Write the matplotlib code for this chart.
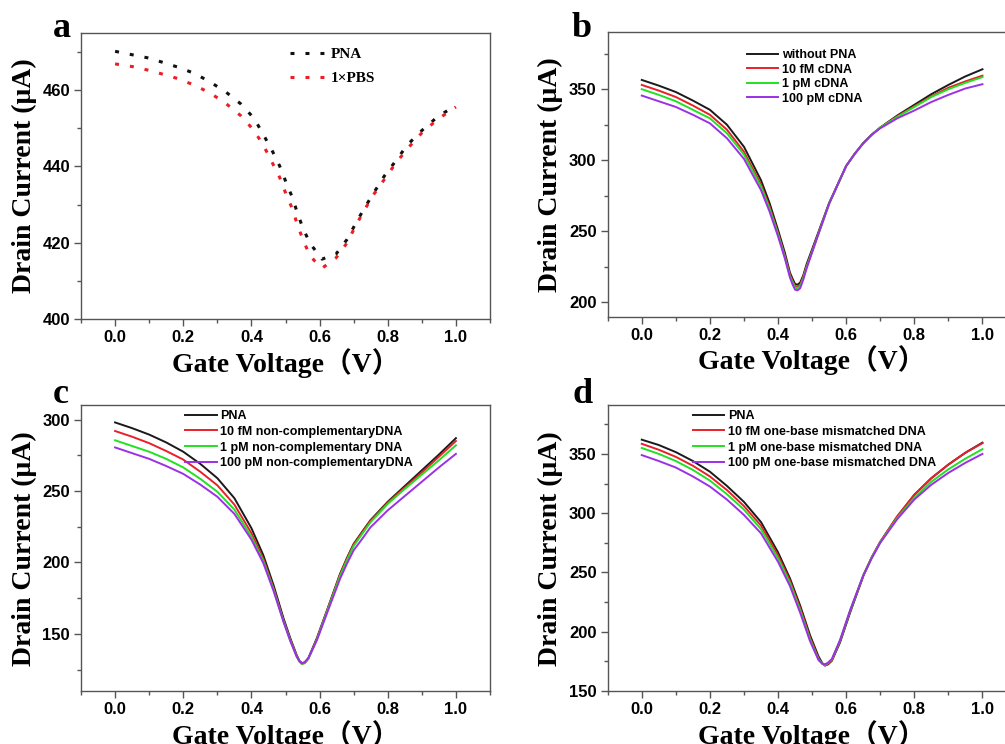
import matplotlib.pyplot as plt
from matplotlib.ticker import MultipleLocator

# ---- panel a: PNA vs 1xPBS (dotted) ----
a_x = [0, 0.05, 0.095, 0.14, 0.186, 0.233, 0.278, 0.324, 0.369, 0.408, 0.436, 0.46, 0.483, 0.501,
       0.52, 0.535, 0.552, 0.573, 0.607, 0.648, 0.68, 0.705, 0.731, 0.759, 0.79, 0.823, 0.858,
       0.901, 0.947, 1.0]
a_pna = [470.2, 469.3, 468.5, 467.3, 466.0, 464.4, 462.2, 459.6, 456.4, 452.6, 448.2, 444.3, 440.1,
         436.0, 431.9, 427.8, 423.6, 419.7, 415.7, 417.0, 420.8, 424.9, 429.0, 433.1, 437.5, 441.4,
         445.7, 449.5, 453.1, 456.0]
a_pbs = [466.9, 466.2, 465.3, 464.2, 463.0, 461.3, 459.3, 456.6, 453.3, 449.4, 445.4, 441.2, 437.1,
         432.9, 428.9, 424.7, 420.6, 416.4, 413.3, 416.0, 419.9, 424.3, 428.5, 432.7, 436.6, 440.8,
         444.7, 448.9, 452.4, 455.6]
a_labels = ['PNA', '1×PBS']

# ---- panel b: cDNA ----
b_x = [0, 0.05, 0.1, 0.15, 0.2, 0.25, 0.3, 0.35, 0.375, 0.4, 0.42, 0.435, 0.443, 0.45, 0.457,
       0.465, 0.474, 0.484, 0.514, 0.55, 0.6, 0.625, 0.65, 0.675, 0.7, 0.75, 0.8, 0.85, 0.9,
       0.95, 1.0]
b_black = [356.5, 352.5, 348, 342, 335.5, 325, 309.5, 286, 270, 251, 235, 221, 216.5, 213, 212.5,
           214, 219, 227, 246.5, 270, 296, 304.5, 312, 318, 323, 331.5, 339, 346.5, 353, 359, 364]
b_red = [353, 349, 344.5, 338.5, 332, 321.5, 306, 283, 267.5, 249, 233, 219.5, 215, 211.5, 211,
         212.5, 218, 225.5, 245.5, 269.5, 296, 304.5, 312, 318, 323, 331, 338, 345, 351, 355.5, 359.5]
b_green = [350, 346, 341.5, 335.5, 329.5, 319, 304, 281.5, 266, 248, 232, 218.5, 214, 210.5, 210,
           211.5, 217, 225, 245, 269.5, 296, 304.5, 312, 318, 323, 330.5, 337.5, 344.5, 350, 354.5,
           358.5]
b_purple = [345.5, 341.5, 337.5, 332, 326, 315.5, 301, 279, 264, 246.5, 231, 217.5, 212.5, 209,
            208.5, 210, 216, 224, 245, 269.5, 296, 304.5, 312, 318, 322.5, 329.5, 335, 341, 346,
            350.5, 353.5]
b_labels = ['without PNA', '10 fM cDNA', '1 pM cDNA', '100 pM cDNA']

# ---- panel c: non-complementary DNA ----
c_x = [0, 0.05, 0.1, 0.15, 0.2, 0.25, 0.3, 0.35, 0.4, 0.435, 0.465, 0.494, 0.514, 0.533, 0.541,
       0.548, 0.556, 0.567, 0.592, 0.621, 0.66, 0.68, 0.7, 0.725, 0.749, 0.8, 0.85, 0.9, 0.95, 1.0]
c_black = [298, 294, 289.5, 284, 277.5, 269, 259, 245, 224, 205, 184, 161, 147, 135, 131, 129.5,
           130, 133, 147, 166, 192, 203, 213, 221.5, 229.5, 242.5, 253.5, 264.5, 275.5, 287]
c_red = [292, 288, 283.5, 278, 272, 263.5, 254, 240.5, 220.5, 202.5, 182, 159.5, 146, 134.5, 130.5,
         129, 129.5, 132.5, 146.5, 165.5, 191.5, 202.5, 212.5, 221, 229, 242, 252.5, 263, 274, 285]
c_green = [285.5, 281.5, 277.5, 272.5, 266.5, 258.5, 249.5, 237, 218, 201, 181, 159, 145.5, 134,
           130.5, 129, 129.5, 132.5, 146, 165, 190.5, 201.5, 211.5, 220, 228, 241, 251.5, 261.5,
           271.5, 282]
c_purple = [280.5, 276.5, 272.5, 267.5, 262, 254.5, 246, 234, 216, 199.5, 180, 158.5, 145, 134,
            131, 129.5, 130, 133, 145.5, 164, 188.5, 199, 208.5, 216.5, 224.5, 236.5, 246.5, 256.5,
            266.5, 276]
c_labels = ['PNA', '10 fM non-complementaryDNA', '1 pM non-complementary DNA',
            '100 pM non-complementaryDNA']

# ---- panel d: one-base mismatched DNA ----
d_x = [0, 0.05, 0.1, 0.15, 0.2, 0.25, 0.3, 0.35, 0.4, 0.435, 0.465, 0.494, 0.519, 0.53, 0.538,
       0.547, 0.558, 0.582, 0.612, 0.651, 0.675, 0.7, 0.75, 0.8, 0.85, 0.9, 0.95, 1.0]
d_black = [362, 357.5, 351.5, 344, 335, 323, 309.5, 292.5, 267, 245, 222, 197, 179, 173.5, 171.5,
           172.5, 175.5, 191, 216.5, 247.5, 262.5, 275.5, 297, 315.5, 329.5, 341, 351, 359.5]
d_red = [358.5, 353.5, 347.5, 340, 331, 319.5, 306, 289.5, 264.5, 243, 220, 195, 177.5, 173, 171.5,
         173, 176, 192, 217.5, 248, 263, 276, 297.5, 315.5, 329.5, 341, 351, 359]
d_green = [355, 350, 344, 336.5, 327.5, 316, 303, 286.5, 262, 241, 218, 193.5, 176.5, 173, 172,
           173.5, 176.5, 192.5, 218, 248, 262.5, 275.5, 296, 313, 326.5, 337, 346, 354]
d_purple = [349, 344, 338.5, 331, 322.5, 311.5, 298.5, 283, 259, 238.5, 216, 192, 176, 173, 172.5,
            174, 177, 193, 218.5, 248, 262, 275, 295, 311.5, 324, 334, 342.5, 350]
d_labels = ['PNA', '10 fM one-base mismatched DNA', '1 pM one-base mismatched DNA',
            '100 pM one-base mismatched DNA']

colors = ['#1a1a1a', '#e8202a', '#22e022', '#9b30e6']

SERIF = ['Liberation Serif', 'Noto Sans CJK SC']
SANS = 'Liberation Sans'

fig = plt.figure(figsize=(10.05, 7.44), dpi=100)
W, H = 1005, 744


def add_axes(left, top, width, bottom):
    return fig.add_axes([left / W, 1 - bottom / H, width / W, (bottom - top) / H])


def style_axes(ax, ylim, ymajor, yminor, letter, letter_xy):
    ax.set_xlim(-0.1, 1.1)
    ax.set_ylim(*ylim)
    ax.xaxis.set_major_locator(MultipleLocator(0.2))
    ax.xaxis.set_minor_locator(MultipleLocator(0.1))
    ax.yaxis.set_major_locator(MultipleLocator(ymajor))
    ax.yaxis.set_minor_locator(MultipleLocator(yminor))
    for s in ax.spines.values():
        s.set_color('#555555')
        s.set_linewidth(1.0)
    ax.tick_params(which='both', direction='out', color='#555555', width=1.0,
                   top=False, right=False)
    ax.tick_params(which='major', length=5, pad=3)
    ax.tick_params(which='minor', length=3)
    for lab in ax.get_xticklabels() + ax.get_yticklabels():
        lab.set_fontfamily(SANS)
        lab.set_fontweight('bold')
        lab.set_fontsize(12)
    ax.set_xlabel('Gate Voltage（V）', family=SERIF, weight='bold', fontsize=20, labelpad=2)
    ax.set_ylabel('Drain Current (μA)', family=SERIF, weight='bold', fontsize=20, labelpad=4)
    fig.text(letter_xy[0] / W, 1 - letter_xy[1] / H, letter, family=SERIF, weight='bold',
             fontsize=26, ha='left', va='baseline')


ax_a = add_axes(81, 33, 409, 319)
ax_b = add_axes(607.7, 32.3, 408.8, 316.7)
ax_c = add_axes(81, 405.3, 409, 691)
ax_d = add_axes(607.7, 405.3, 408.8, 691)

# panel a
dots = (0, (1.3, 3.6))
ax_a.plot(a_x, a_pna, color='#111111', lw=2.2, linestyle=dots, label=a_labels[0])
ax_a.plot(a_x, a_pbs, color='#ee1c24', lw=2.2, linestyle=dots, label=a_labels[1])
style_axes(ax_a, (400, 475), 20, 10, 'a', (53, 37))
ax_a.legend(loc='upper left', bbox_to_anchor=(0.492, 0.975), frameon=False, borderpad=0,
            handlelength=2.3, handletextpad=0.4, labelspacing=0.65,
            prop={'family': 'Liberation Serif', 'weight': 'bold', 'size': 11})

# panels b, c, d
panels = [
    (ax_b, b_x, [b_black, b_red, b_green, b_purple], b_labels, (190, 390), 'b', (572, 37),
     (0.326, 0.962), 0.2),
    (ax_c, c_x, [c_black, c_red, c_green, c_purple], c_labels, (110, 310), 'c', (53, 403),
     (0.24, 1.005), 0.3),
    (ax_d, d_x, [d_black, d_red, d_green, d_purple], d_labels, (150, 391), 'd', (572, 403),
     (0.193, 1.005), 0.3),
]
for ax, xs, series, labels, ylim, letter, lxy, anchor, spacing in panels:
    for ys, col, lab in zip(series, colors, labels):
        ax.plot(xs, ys, color=col, lw=1.4, label=lab)
    style_axes(ax, ylim, 50, 25, letter, lxy)
    ax.legend(loc='upper left', bbox_to_anchor=anchor, frameon=False, borderpad=0,
              handlelength=2.5, handletextpad=0.3, labelspacing=spacing,
              prop={'family': SANS, 'weight': 'bold', 'size': 9})

fig.savefig('out.png', dpi=100)
